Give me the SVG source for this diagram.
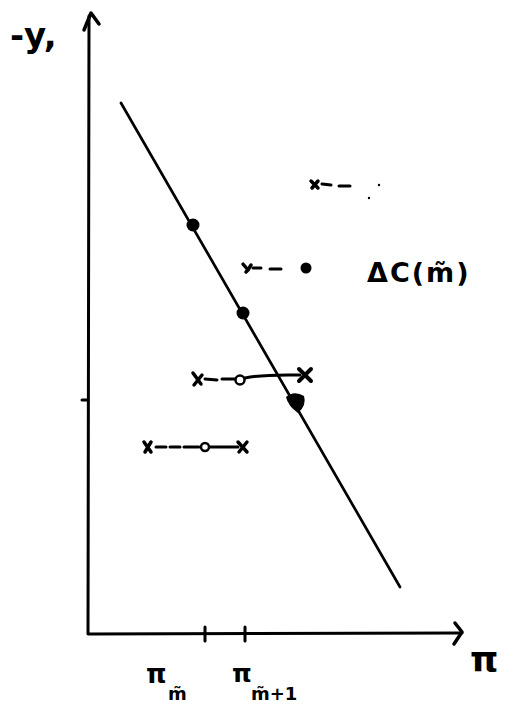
<svg xmlns="http://www.w3.org/2000/svg" width="516" height="708" viewBox="0 0 516 708">
<style>
.ln{stroke:#000;fill:none;stroke-linecap:round;stroke-linejoin:round}
.t{font-family:"DejaVu Sans","Liberation Sans",sans-serif;font-weight:bold;fill:#000}
</style>
<rect width="516" height="708" fill="#fff"/>
<g id="axes">
<path class="ln" stroke-width="3" d="M89 16 L88 634 L462 633"/>
<path class="ln" stroke-width="3.5" d="M84 30 L91 13 L99 24"/>
<path class="ln" stroke-width="3.5" d="M455 623 L462 632 L454 644"/>
<path class="ln" stroke-width="3" d="M82 400 L88 400"/>
<path class="ln" stroke-width="3" d="M205 627 L205 641 M245 627 L245 641"/>
</g>
<g id="connectors">
<path class="ln" stroke-width="2.7" d="M121 103 L400 587"/>
<path class="ln" stroke-width="3" d="M253 268 L261 268 M270 269 L281 269"/>
<path class="ln" stroke-width="3" d="M205 379 L217 380 M222 379 L235 379 M245 378 C265 374 285 375 300 375"/>
<path class="ln" stroke-width="3" d="M156 447 L166 447 M170 447 L180 447 M184 447 L199 447 M210 447 L238 447"/>
<path class="ln" stroke-width="3" d="M322 184 L331 185 M339 186 L350 186"/>
</g>
<g id="points">
<circle cx="193" cy="225" r="6.5"/>
<circle cx="243" cy="313" r="6.5"/>
<path d="M286 397 Q294 390 304 396 Q307 405 298 413 Q288 406 286 397 Z"/>
<circle cx="306" cy="268" r="5.5"/>
<circle cx="240" cy="380" r="4.5" fill="#fff" stroke="#000" stroke-width="2.5"/>
<circle cx="205" cy="447" r="4" fill="#fff" stroke="#000" stroke-width="2.5"/>
<circle cx="379" cy="185" r="1.2"/>
<circle cx="369" cy="198" r="1.2"/>
<path class="ln" stroke-width="3.5" d="M243 264 L248 270 L251 265 M248 270 L246 272"/>
<path class="ln" stroke-width="3.5" d="M193 373 L201 384 M202 375 L194 385"/>
<path class="ln" stroke-width="4" d="M299 369 L311 381 M311 369 L299 381"/>
<path class="ln" stroke-width="3.5" d="M144 442 L151 452 M151 442 L145 452"/>
<path class="ln" stroke-width="3.5" d="M238 442 L247 452 M247 442 L239 452"/>
<path class="ln" stroke-width="3.5" d="M311 181 L318 188 M318 181 L312 188"/>
</g>
<g id="labels">
<text class="t" x="10" y="47" font-size="34">-y,</text>
<text class="t" x="367" y="282" font-size="27" letter-spacing="2">ΔC(m̃)</text>
<text class="t" x="470" y="672" font-size="36" font-family="Liberation Serif,serif">π</text>
<text class="t" x="146" y="683" font-size="26">π</text>
<text class="t" x="168" y="700" font-size="18">m̃</text>
<text class="t" x="232" y="682" font-size="25">π</text>
<text class="t" x="251" y="700" font-size="18">m̃+1</text>
</g>
</svg>
